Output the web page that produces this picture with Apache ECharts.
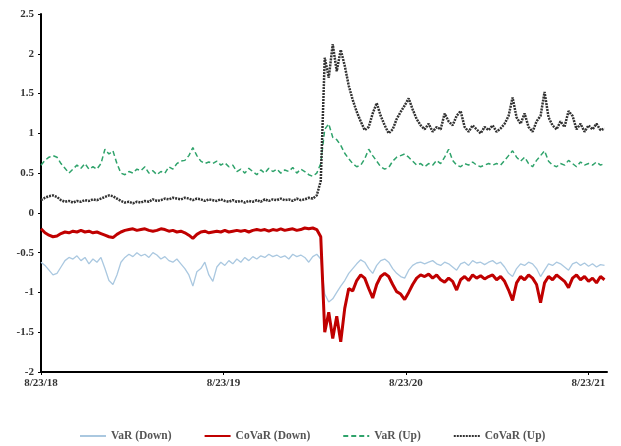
<!DOCTYPE html>
<html lang="en">
<head>
    <meta charset="UTF-8">
    <title>VaR / CoVaR</title>
    <script src="https://cdn.jsdelivr.net/npm/echarts@6/dist/echarts.min.js"></script>
    <style>
        *{ padding:0; margin:0; }
        html,body{ width:621px; height:446px; background:#fff; }
        #main{ width:621px; height:446px; }
    </style>
</head>
<body>
<div id="main"></div>
<script>
    // one point every 8 days, starting 8/23/18
    var step = 8;
    var xLabels = ['8/23/18', '8/23/19', '8/23/20', '8/23/21'];

    var varUp = [0.60,0.66,0.70,0.72,0.70,0.62,0.56,0.50,0.55,0.60,0.56,0.62,0.55,0.58,0.55,0.62,0.80,0.74,0.78,0.62,
        0.50,0.48,0.52,0.50,0.55,0.53,0.58,0.50,0.53,0.48,0.52,0.50,0.58,0.55,0.62,0.65,0.66,0.72,0.82,0.72,
        0.65,0.62,0.64,0.62,0.65,0.60,0.63,0.58,0.60,0.52,0.55,0.50,0.56,0.52,0.48,0.54,0.50,0.56,0.52,0.55,
        0.50,0.54,0.52,0.57,0.50,0.55,0.52,0.48,0.46,0.50,0.62,1.05,1.12,0.95,0.92,0.85,0.75,0.68,0.62,0.58,
        0.60,0.68,0.80,0.72,0.65,0.58,0.55,0.57,0.65,0.70,0.72,0.74,0.70,0.65,0.60,0.62,0.58,0.62,0.60,0.66,
        0.62,0.70,0.80,0.66,0.60,0.58,0.62,0.60,0.64,0.60,0.58,0.60,0.62,0.60,0.62,0.60,0.66,0.72,0.78,0.70,
        0.65,0.70,0.62,0.58,0.66,0.72,0.78,0.65,0.60,0.58,0.62,0.60,0.66,0.62,0.58,0.64,0.60,0.62,0.60,0.64,
        0.60,0.62];

    var coVarUp = [0.16,0.19,0.21,0.22,0.20,0.16,0.14,0.15,0.13,0.15,0.14,0.16,0.15,0.17,0.16,0.18,0.20,0.22,0.21,0.18,
        0.15,0.13,0.14,0.12,0.14,0.13,0.15,0.14,0.17,0.15,0.16,0.18,0.17,0.19,0.18,0.17,0.19,0.18,0.16,0.18,
        0.17,0.15,0.17,0.16,0.15,0.17,0.15,0.14,0.16,0.14,0.15,0.13,0.15,0.14,0.16,0.14,0.17,0.15,0.17,0.16,
        0.18,0.16,0.17,0.15,0.18,0.16,0.17,0.19,0.18,0.22,0.40,1.95,1.70,2.12,1.78,2.05,1.85,1.60,1.42,1.27,
        1.15,1.04,1.08,1.25,1.38,1.22,1.10,1.00,1.05,1.18,1.27,1.35,1.44,1.30,1.18,1.10,1.05,1.12,1.02,1.08,
        1.05,1.25,1.15,1.10,1.22,1.28,1.08,1.02,1.10,1.05,1.00,1.08,1.04,1.10,1.02,1.06,1.12,1.22,1.45,1.20,
        1.12,1.25,1.08,1.02,1.15,1.22,1.52,1.20,1.10,1.05,1.15,1.08,1.28,1.22,1.05,1.12,1.02,1.10,1.05,1.12,
        1.04,1.06];

    var coVarDown = [-0.20,-0.25,-0.28,-0.30,-0.29,-0.26,-0.24,-0.25,-0.23,-0.24,-0.22,-0.24,-0.23,-0.25,-0.24,-0.26,-0.28,-0.30,-0.31,-0.27,
        -0.24,-0.22,-0.21,-0.20,-0.22,-0.21,-0.20,-0.22,-0.23,-0.22,-0.20,-0.21,-0.23,-0.22,-0.24,-0.23,-0.25,-0.28,-0.32,-0.27,
        -0.24,-0.23,-0.25,-0.24,-0.23,-0.24,-0.22,-0.24,-0.23,-0.22,-0.23,-0.22,-0.24,-0.22,-0.21,-0.22,-0.21,-0.23,-0.21,-0.22,
        -0.20,-0.22,-0.21,-0.20,-0.22,-0.21,-0.19,-0.20,-0.19,-0.21,-0.30,-1.50,-1.25,-1.58,-1.30,-1.62,-1.20,-0.95,-0.98,-0.85,
        -0.78,-0.82,-0.95,-1.07,-0.90,-0.80,-0.76,-0.80,-0.90,-0.99,-1.02,-1.09,-1.00,-0.90,-0.82,-0.78,-0.80,-0.77,-0.82,-0.78,
        -0.84,-0.87,-0.82,-0.86,-0.97,-0.84,-0.80,-0.85,-0.78,-0.82,-0.79,-0.83,-0.80,-0.78,-0.84,-0.80,-0.86,-0.97,-1.10,-0.88,
        -0.80,-0.84,-0.78,-0.82,-0.90,-1.13,-0.88,-0.80,-0.84,-0.78,-0.82,-0.86,-0.94,-0.82,-0.78,-0.84,-0.80,-0.86,-0.82,-0.88,
        -0.80,-0.84];

    var varDown = [-0.62,-0.66,-0.72,-0.78,-0.76,-0.68,-0.60,-0.56,-0.58,-0.54,-0.60,-0.56,-0.64,-0.58,-0.62,-0.56,-0.70,-0.85,-0.90,-0.78,
        -0.62,-0.56,-0.52,-0.55,-0.50,-0.54,-0.52,-0.56,-0.50,-0.53,-0.58,-0.55,-0.60,-0.62,-0.58,-0.64,-0.70,-0.78,-0.92,-0.74,
        -0.70,-0.62,-0.78,-0.86,-0.68,-0.62,-0.66,-0.60,-0.64,-0.58,-0.62,-0.56,-0.60,-0.55,-0.58,-0.54,-0.56,-0.52,-0.55,-0.53,
        -0.56,-0.54,-0.58,-0.52,-0.55,-0.53,-0.56,-0.62,-0.55,-0.52,-0.58,-1.02,-1.12,-1.08,-1.00,-0.92,-0.85,-0.76,-0.70,-0.64,
        -0.59,-0.62,-0.70,-0.76,-0.66,-0.60,-0.58,-0.62,-0.70,-0.76,-0.80,-0.82,-0.72,-0.66,-0.63,-0.62,-0.64,-0.62,-0.60,-0.64,
        -0.66,-0.62,-0.64,-0.68,-0.72,-0.64,-0.62,-0.66,-0.60,-0.63,-0.62,-0.65,-0.62,-0.60,-0.64,-0.62,-0.68,-0.76,-0.80,-0.70,
        -0.64,-0.66,-0.62,-0.64,-0.70,-0.80,-0.72,-0.64,-0.66,-0.62,-0.64,-0.68,-0.72,-0.64,-0.62,-0.66,-0.63,-0.67,-0.64,-0.68,
        -0.65,-0.66];

    function pairs(arr) {
        return arr.map(function (v, i) { return [i * step, v]; });
    }

    var myChart = echarts.init(document.getElementById('main'));
    var font = '"Liberation Serif", "Times New Roman", serif';

    var option = {
        animation: false,
        grid: { left: 41, right: 14, top: 14, bottom: 74 },
        legend: {
            top: 425,
            left: 74,
            itemWidth: 26,
            itemHeight: 10,
            itemGap: 32,
            itemStyle: { opacity: 0 },
            textStyle: { fontFamily: font, fontWeight: 'bold', fontSize: 11.5, color: '#555' },
            data: ['VaR (Down)', 'CoVaR (Down)', 'VaR (Up)', 'CoVaR (Up)']
        },
        xAxis: {
            type: 'value',
            min: 0,
            max: 1133,
            interval: 365.25,
            splitLine: { show: false },
            axisLine: { onZero: false, lineStyle: { color: '#000', width: 2 } },
            axisTick: { length: 3, lineStyle: { color: '#000' } },
            axisLabel: {
                fontFamily: font, fontWeight: 'bold', fontSize: 11, color: '#333', margin: 6,
                formatter: function (v) { return xLabels[Math.round(v / 365.25)] || ''; }
            }
        },
        yAxis: {
            type: 'value',
            min: -2,
            max: 2.5,
            interval: 0.5,
            splitLine: { show: false },
            axisLine: { show: true, lineStyle: { color: '#000', width: 2 } },
            axisTick: { show: true, length: 3, lineStyle: { color: '#000' } },
            axisLabel: { fontFamily: font, fontWeight: 'bold', fontSize: 11, color: '#333', margin: 7 }
        },
        series: [
            {
                name: 'VaR (Down)', type: 'line', showSymbol: false, symbol: 'none',
                lineStyle: { color: '#aac8e0', width: 1.3 },
                itemStyle: { color: '#aac8e0' },
                data: pairs(varDown)
            },
            {
                name: 'CoVaR (Down)', type: 'line', showSymbol: false, symbol: 'none',
                lineStyle: { color: '#c00000', width: 3 },
                itemStyle: { color: '#c00000' },
                data: pairs(coVarDown)
            },
            {
                name: 'VaR (Up)', type: 'line', showSymbol: false, symbol: 'none',
                lineStyle: { color: '#2fa36b', width: 1.5, type: [5, 3] },
                itemStyle: { color: '#2fa36b' },
                data: pairs(varUp)
            },
            {
                name: 'CoVaR (Up)', type: 'line', showSymbol: false, symbol: 'none',
                lineStyle: { color: '#333', width: 2.5, type: [2, 1] },
                itemStyle: { color: '#333' },
                data: pairs(coVarUp)
            }
        ]
    };
    myChart.setOption(option);
</script>
</body>
</html>
